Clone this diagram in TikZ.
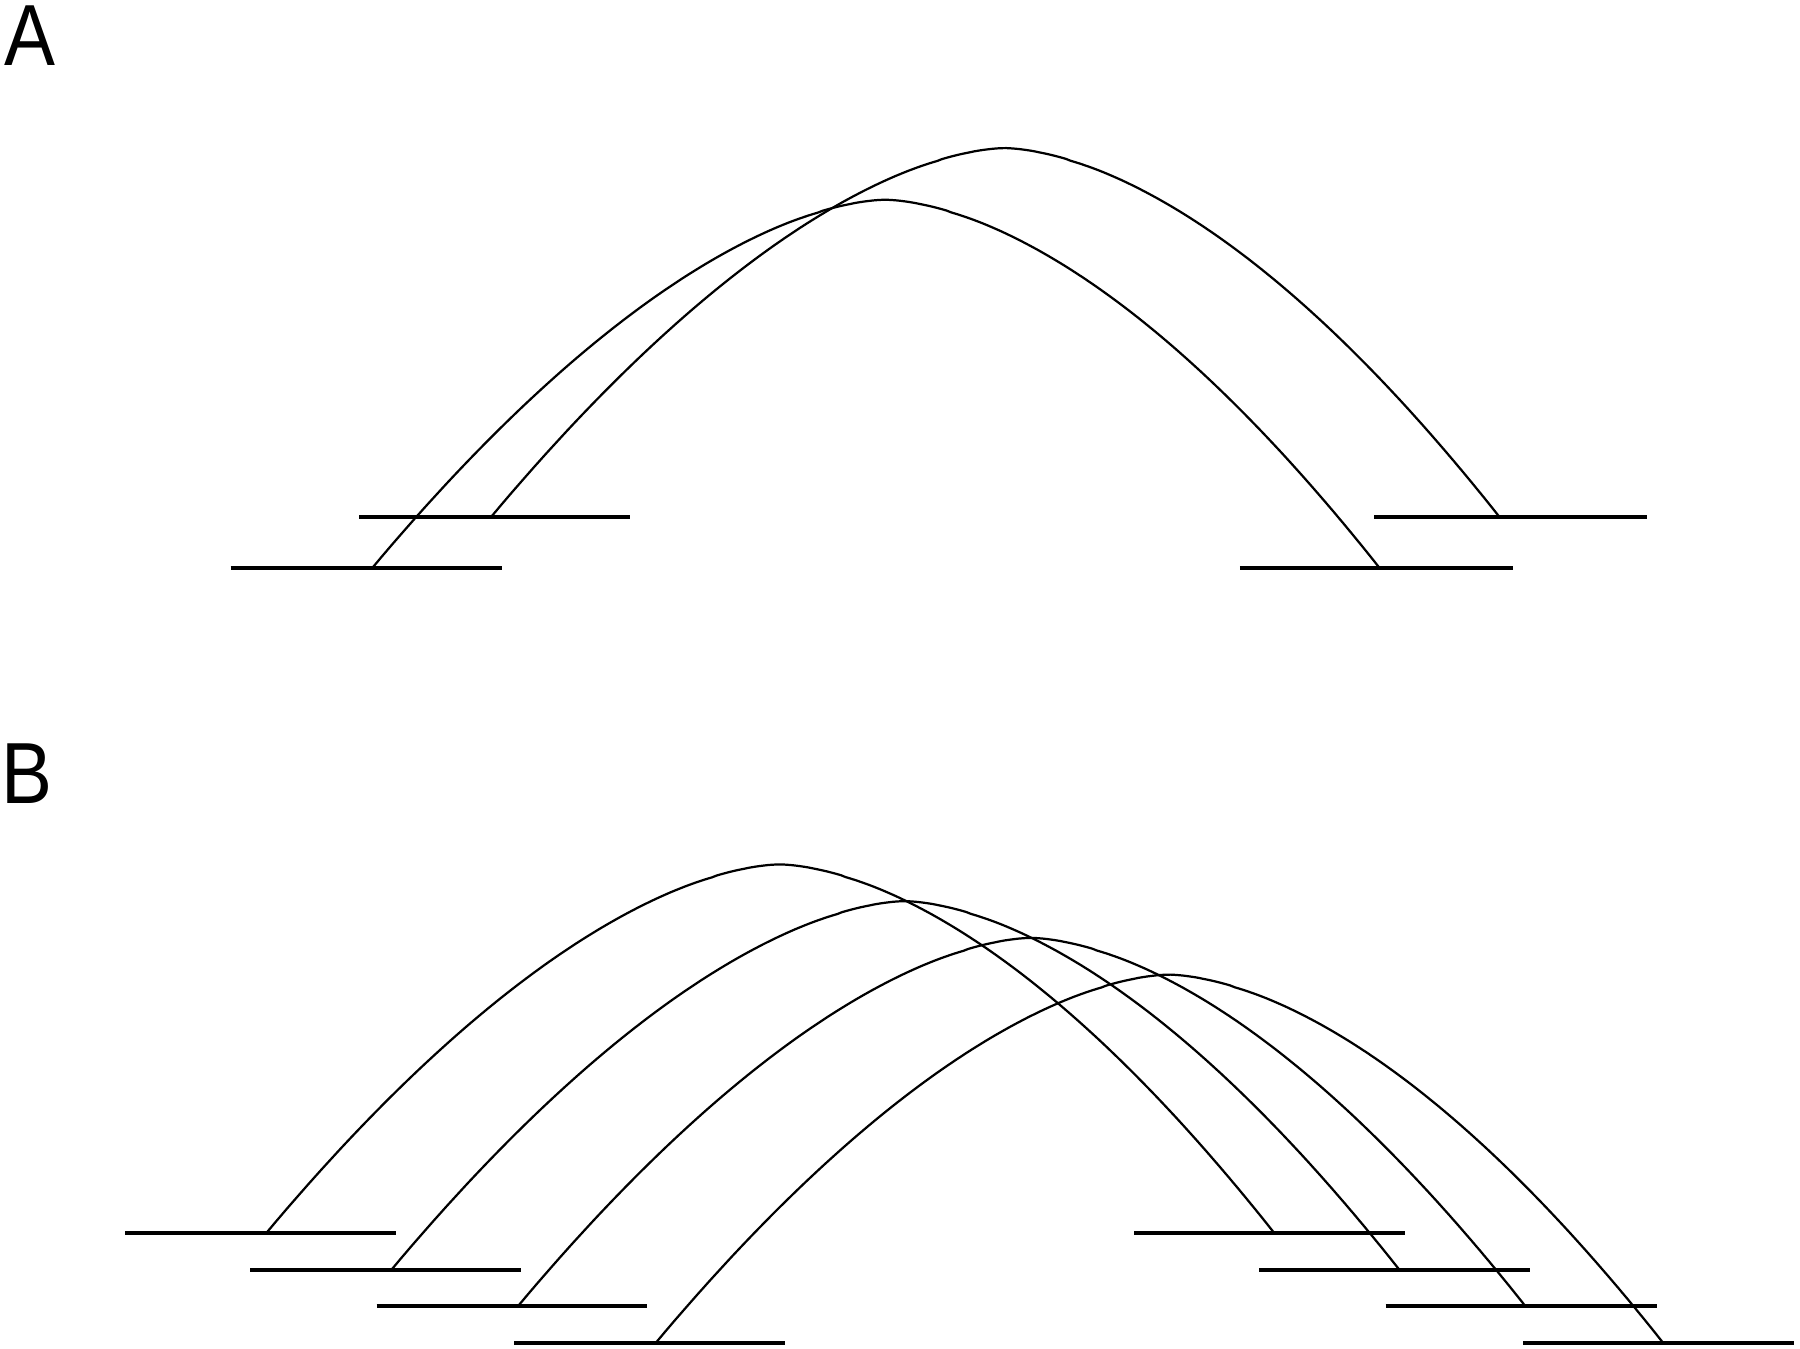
\documentclass[tikz,border=0pt]{standalone}
\usepackage{fontspec}
\setmainfont{Liberation Sans}
\usetikzlibrary{calc}

\tikzset{
  ground/.style={line width=1pt},
  archline/.style={line width=0.55pt, line join=round},
  panel/.style={font=\fontsize{21.5}{22}\selectfont, inner sep=0pt, anchor=base west, xscale=0.88}
}
% one arch, starting at its left foot
\newcommand{\arch}[1]{%
  \draw[archline, shift={(#1)}] plot[domain=0:1, samples=220]
    ({878*\x + 8*sin(180*\x)}, {-321*(1-(abs(2*\x-1)+0.0001)^1.68)});}

\begin{document}
\begin{tikzpicture}[x=0.01cm, y=-0.01cm]
    \useasboundingbox (0,0) rectangle (1568,1175);

    % Panel labels
    \node[panel] (labA) at (3,57) {A};
    \node[panel] (labB) at (1,700) {B};

    % A: two arches, the second shifted up and to the right
    \coordinate (A1l) at (324,495);
    \coordinate (A1r) at (1202,495);
    \coordinate (A2l) at (428,450);
    \coordinate (A2r) at (1307,450);
    \draw[ground] (A1l) ++(-123,0) -- ++(236,0);
    \draw[ground] (A1r) ++(-122,0) -- ++(238,0);
    \draw[ground] (A2l) ++(-115,0) -- ++(236,0);
    \draw[ground] (A2r) ++(-110,0) -- ++(238,0);
    \arch{A1l}
    \arch{A2l}

    % B: four arches, each shifted down and to the right
    \foreach \fx/\fy [count=\i] in {232/1074, 341/1106, 451/1138, 571/1170} {
        \coordinate (bl\i) at (\fx,\fy);
        \coordinate (br\i) at ($(bl\i)+(878,0)$);
        \draw[ground] (bl\i) ++(-123,0) -- ++(236,0);
        \draw[ground] (br\i) ++(-122,0) -- ++(236,0);
        \arch{bl\i}
    }
\end{tikzpicture}
\end{document}
